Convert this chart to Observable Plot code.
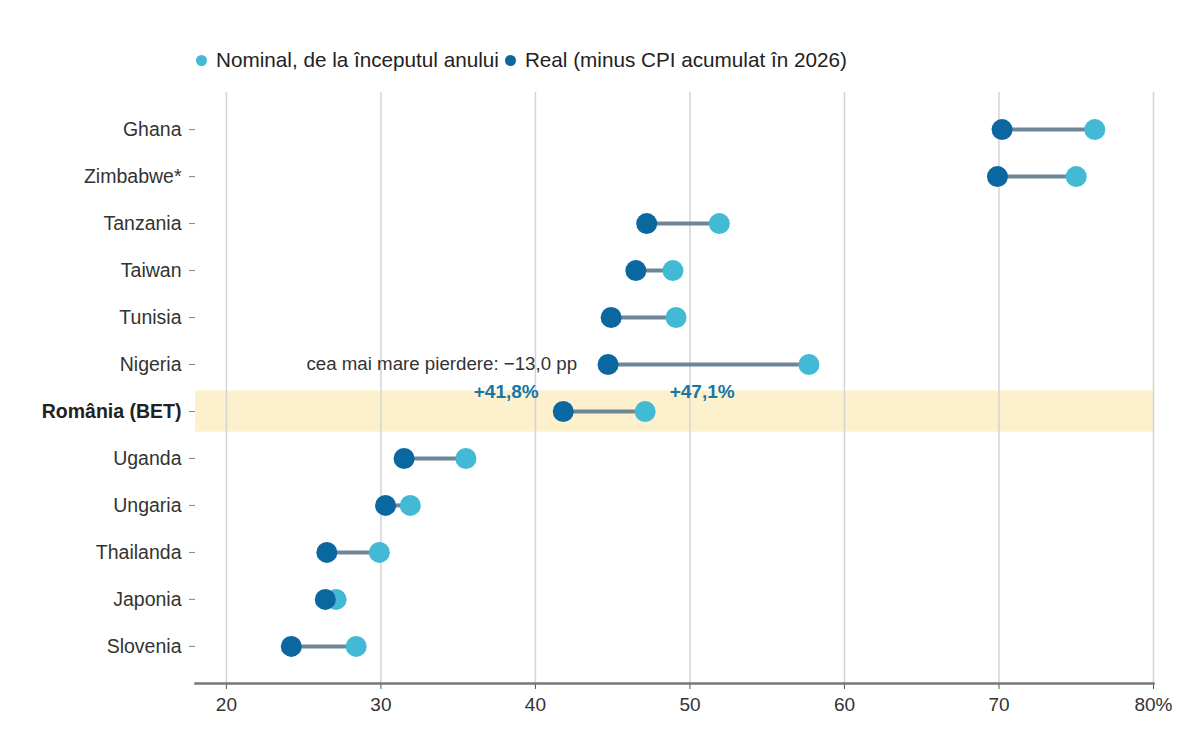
<!DOCTYPE html>
<html><head><meta charset="utf-8">
<script src="https://cdn.jsdelivr.net/npm/d3@7"></script>
<script src="https://cdn.jsdelivr.net/npm/@observablehq/plot@0.6"></script>
<style>
body{margin:0;background:#fff;font-family:"Liberation Sans",Arial,sans-serif;}
#wrap{position:relative;width:1200px;height:738px;overflow:hidden;}
#legend{position:absolute;left:196px;top:47px;font-size:20.7px;color:#222;display:flex;align-items:center;white-space:nowrap;line-height:26px;}
.sw{display:inline-block;width:11px;height:11px;border-radius:50%;margin-right:9px;}
.item{display:inline-flex;align-items:center;margin-right:6px;}
#chart{position:absolute;left:0;top:80px;}
</style></head><body>
<div id="wrap">
  <div id="legend"></div>
  <div id="chart"></div>
</div>
<script>
const countries = ["Ghana","Zimbabwe*","Tanzania","Taiwan","Tunisia","Nigeria","România (BET)","Uganda","Ungaria","Thailanda","Japonia","Slovenia"];
const nominal = [76.2, 75.0, 51.9, 48.9, 49.1, 57.7, 47.1, 35.5, 31.9, 29.9, 27.1, 28.4];
const real    = [70.2, 69.9, 47.2, 46.5, 44.9, 44.7, 41.8, 31.5, 30.3, 26.5, 26.4, 24.2];
const highlight = "România (BET)";
const xDomain = [18, 80];
const xTicks = [20, 30, 40, 50, 60, 70, 80];
const seriesNames = ["Nominal, de la începutul anului", "Real (minus CPI acumulat în 2026)"];
const colNominal = "#42b9d5";
const colReal = "#0b67a0";

const rows = countries.map((c, i) => ({country: c, nominal: nominal[i], real: real[i]}));
const biggest = rows.reduce((a, b) => (b.nominal - b.real) > (a.nominal - a.real) ? b : a);
const roRow = rows.find(d => d.country === highlight);
const fmt = v => v.toFixed(1).replace(".", ",");

// legend
const lg = document.getElementById("legend");
[[colNominal, seriesNames[0]], [colReal, seriesNames[1]]].forEach(([c, t]) => {
  const s = document.createElement("span"); s.className = "item";
  s.innerHTML = `<span class="sw" style="background:${c}"></span><span>${t}</span>`;
  lg.appendChild(s);
});

const chart = Plot.plot({
  width: 1200,
  height: 658,
  marginTop: 12,
  marginBottom: 55,
  marginLeft: 195,
  marginRight: 47,
  style: {fontFamily: '"Liberation Sans", Arial, sans-serif', fontSize: "19px", color: "#333", background: "#fff"},
  x: {domain: xDomain},
  y: {domain: countries, type: "band", paddingInner: 0.12, paddingOuter: 0.35, round: false},
  marks: [
    Plot.barX([highlight], {y: d => d, x1: () => xDomain[0], x2: () => xDomain[1], fill: "#fdf0cd"}),
    Plot.gridX(xTicks, {stroke: "#d4d4d4", strokeOpacity: 1, strokeWidth: 1.5}),
    Plot.ruleY(rows, {y: "country", x1: "real", x2: "nominal", stroke: "#6e8695", strokeWidth: 4}),
    Plot.dot(rows, {x: "nominal", y: "country", r: 10.5, fill: colNominal}),
    Plot.dot(rows, {x: "real", y: "country", r: 10.5, fill: colReal}),
    Plot.text([biggest], {x: "real", y: "country", text: d => `cea mai mare pierdere: −${fmt(d.nominal - d.real)} pp`, textAnchor: "end", dx: -31, fontSize: 18.7, fill: "#333"}),
    Plot.text([roRow], {x: "real", y: "country", text: d => `+${fmt(d.real)}%`, dx: -57, dy: -20, fontSize: 19, fontWeight: "bold", fill: "#1576a8"}),
    Plot.text([roRow], {x: "nominal", y: "country", text: d => `+${fmt(d.nominal)}%`, dx: 57, dy: -20, fontSize: 19, fontWeight: "bold", fill: "#1576a8"}),
    Plot.axisY(countries.filter(c => c !== highlight), {label: null, tickSize: 6, tickPadding: 8, fontSize: 19.5, stroke: "#888", fill: "#333"}),
    Plot.axisY([highlight], {label: null, tickSize: 6, tickPadding: 8, fontSize: 19.5, fontWeight: "bold", stroke: "#888", fill: "#222"}),
    Plot.axisX(xTicks, {label: null, tickSize: 6, tickPadding: 8, fontSize: 19, stroke: "#555", fill: "#333", tickFormat: d => d === 80 ? "80%" : String(d)}),
    Plot.frame({anchor: "bottom", stroke: "#777", strokeWidth: 2.5})
  ]
});
document.getElementById("chart").appendChild(chart);
</script>
</body></html>
